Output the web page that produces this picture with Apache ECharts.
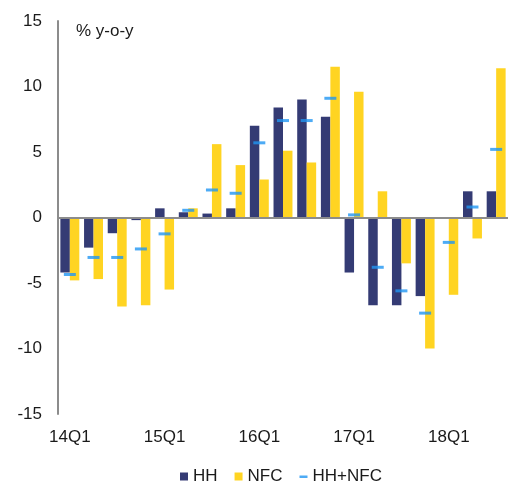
<!DOCTYPE html>
<html><head><meta charset="utf-8">
<script src="https://cdn.jsdelivr.net/npm/echarts@6/dist/echarts.min.js"></script>
<style>html,body{margin:0;padding:0;background:#fff}#c{width:508px;height:486px}</style>
</head><body><div id="c"></div>
<script>
var categories = ['14Q1','14Q2','14Q3','14Q4','15Q1','15Q2','15Q3','15Q4','16Q1','16Q2','16Q3','16Q4','17Q1','17Q2','17Q3','17Q4','18Q1','18Q2','18Q3'];
var hh =    [-4.2,-2.3,-1.2,-0.2, 0.7, 0.4, 0.3, 0.7, 7.0, 8.4, 9.0, 7.7,-4.2,-6.7,-6.7,-6.0,-0.1, 2.0, 2.0];
var nfc =   [-4.8,-4.7,-6.8,-6.7,-5.5, 0.7, 5.6, 4.0, 2.9, 5.1, 4.2,11.5, 9.6, 2.0,-3.5,-10.0,-5.9,-1.6,11.4];
var total = [-4.35,-3.05,-3.05,-2.4,-1.25, 0.55, 2.1, 1.85, 5.7, 7.4, 7.4, 9.1, 0.2,-3.8,-5.6,-7.3,-1.9, 0.8, 5.2];
var yTicks = [-15,-10,-5,0,5,10,15];

var chart = echarts.init(document.getElementById('c'));
var font = 'Liberation Sans, Arial, sans-serif';
chart.setOption({
  animation: false,
  textStyle: {fontFamily: font},
  grid: {left: 58, right: 0, top: 21, bottom: 72, containLabel: false},
  graphic: [{type: 'text', left: 76, top: 23, style: {text: '% y-o-y', font: '17px ' + font, fill: '#1a1a1a'}}],
  legend: {
    left: 175, top: 463, itemGap: 17, itemWidth: 8, itemHeight: 8,
    textStyle: {fontSize: 17, color: '#1a1a1a', fontFamily: font},
    data: [
      {name: 'HH', icon: 'rect'},
      {name: 'NFC', icon: 'rect'},
      {name: 'HH+NFC', icon: 'path://M0,0M8,8M0,3h8v2.5h-8z'}
    ]
  },
  xAxis: {
    type: 'category', data: categories,
    axisLine: {show: false}, axisTick: {show: false},
    axisLabel: {interval: 3, fontSize: 17, color: '#1a1a1a', margin: 15, fontFamily: font},
    splitLine: {show: false}
  },
  yAxis: {
    type: 'value', min: yTicks[0], max: yTicks[yTicks.length - 1], interval: 5,
    axisLine: {show: true, lineStyle: {color: '#8c8c8c', width: 2}},
    axisTick: {show: false}, splitLine: {show: false},
    axisLabel: {fontSize: 17, color: '#1a1a1a', margin: 16, fontFamily: font}
  },
  series: [
    {name: 'HH', type: 'bar', data: hh, barGap: '0%', barCategoryGap: '20%',
     itemStyle: {color: '#343b74'},
     markLine: {silent: true, symbol: 'none', label: {show: false},
       lineStyle: {color: '#8c8c8c', width: 2, type: 'solid'}, data: [{yAxis: 0}]}},
    {name: 'NFC', type: 'bar', data: nfc, itemStyle: {color: '#ffd422'}},
    {name: 'HH+NFC', type: 'scatter', data: total, symbol: 'rect', symbolSize: [12, 3],
     itemStyle: {color: '#2196f3'}, z: 5}
  ]
});
</script></body></html>
